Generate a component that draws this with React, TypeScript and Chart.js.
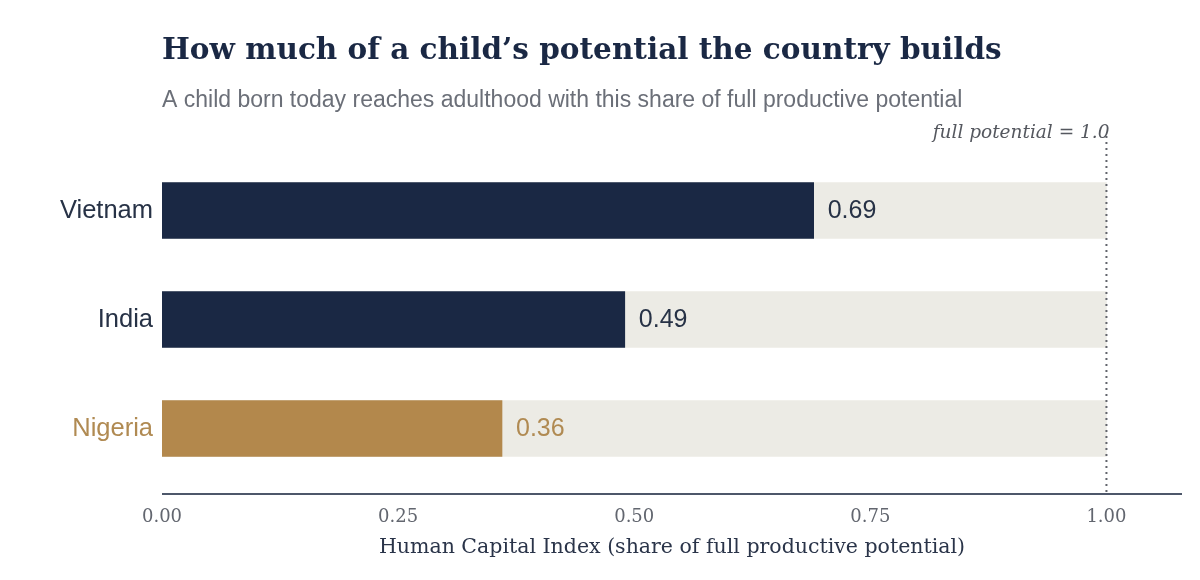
import React, { useEffect, useRef } from 'react';
import Chart from 'chart.js/auto';

const countries = ['Vietnam', 'India', 'Nigeria'];
const hciValues = [0.69, 0.49, 0.36];
const fullPotential = [1, 1, 1];
const tickValues = [0, 0.25, 0.5, 0.75, 1];
const xMax = 1.08;

const NAVY = '#1a2844';
const GOLD = '#b3884c';
const TRACK = '#ecebe5';
const barColors = [NAVY, NAVY, GOLD];
const labelColors = ['#273246', '#273246', '#b08a52'];

// dotted line at full potential, the note above it and the baseline under the bars
const guidePlugin = {
  id: 'guides',
  afterDatasetsDraw(chart: any) {
    const { ctx, chartArea, scales } = chart;
    const x = scales.x.getPixelForValue(1);
    ctx.save();
    ctx.strokeStyle = '#62656c';
    ctx.lineWidth = 2;
    ctx.setLineDash([2, 4]);
    ctx.beginPath();
    ctx.moveTo(x, chartArea.top - 20);
    ctx.lineTo(x, chartArea.bottom + 9);
    ctx.stroke();
    ctx.setLineDash([]);

    ctx.strokeStyle = '#4d576a';
    ctx.lineWidth = 2;
    ctx.beginPath();
    ctx.moveTo(chartArea.left, chartArea.bottom + 11);
    ctx.lineTo(chartArea.right, chartArea.bottom + 11);
    ctx.stroke();

    ctx.font = 'italic 18.5px "DejaVu Serif"';
    ctx.fillStyle = '#55585f';
    ctx.textAlign = 'right';
    ctx.textBaseline = 'alphabetic';
    ctx.fillText('full potential = 1.0', x + 3, chartArea.top - 18);
    ctx.restore();
  },
};

// value labels to the right of each bar
const valueLabelPlugin = {
  id: 'valueLabels',
  afterDatasetsDraw(chart: any) {
    const { ctx } = chart;
    const meta = chart.getDatasetMeta(0);
    ctx.save();
    ctx.font = '25px "Liberation Sans"';
    ctx.textAlign = 'left';
    ctx.textBaseline = 'middle';
    meta.data.forEach((bar: any, i: number) => {
      ctx.fillStyle = labelColors[i];
      ctx.fillText(hciValues[i].toFixed(2), bar.x + 14, bar.y + 1);
    });
    ctx.restore();
  },
};

const App: React.FC = () => {
  const chartRef = useRef<HTMLCanvasElement>(null);
  const chartInstance = useRef<Chart | null>(null);

  useEffect(() => {
    document.body.style.margin = '0';
    if (!chartRef.current) return;
    if (chartInstance.current) chartInstance.current.destroy();

    chartInstance.current = new Chart(chartRef.current, {
      type: 'bar',
      data: {
        labels: countries,
        datasets: [
          {
            label: 'Human Capital Index',
            data: hciValues,
            backgroundColor: barColors,
            barThickness: 56,
            grouped: false,
          },
          {
            label: 'Full potential',
            data: fullPotential,
            backgroundColor: TRACK,
            barThickness: 56,
            grouped: false,
          },
        ],
      },
      options: {
        indexAxis: 'y',
        responsive: true,
        maintainAspectRatio: false,
        animation: false,
        layout: { padding: { left: 0, right: 18, top: 0, bottom: 0 } },
        plugins: {
          legend: { display: false },
          tooltip: { enabled: false },
          title: {
            display: true,
            text: 'How much of a child\u2019s potential the country builds',
            align: 'start',
            fullSize: false,
            color: NAVY,
            font: { family: '"DejaVu Serif"', size: 29.5, weight: 'bold' },
            padding: { top: 34, bottom: 9 },
          },
          subtitle: {
            display: true,
            text: 'A child born today reaches adulthood with this share of full productive potential',
            align: 'start',
            fullSize: false,
            color: '#6b6f78',
            font: { family: '"Liberation Sans"', size: 23 },
            padding: { top: 8, bottom: 42 },
          },
        },
        scales: {
          x: {
            min: 0,
            max: xMax,
            grid: { display: false, drawTicks: false },
            border: { display: false },
            afterBuildTicks: (scale: any) => {
              scale.ticks = tickValues.map((value) => ({ value }));
            },
            afterFit: (scale: any) => {
              scale.height = 97;
            },
            ticks: {
              padding: 24,
              color: '#62666f',
              font: { family: '"DejaVu Serif"', size: 18 },
              callback: (v: any) => Number(v).toFixed(2),
            },
            title: {
              display: true,
              text: 'Human Capital Index (share of full productive potential)',
              color: '#2a3449',
              font: { family: '"DejaVu Serif"', size: 20.5 },
              padding: { top: 20, bottom: 20 },
            },
          },
          y: {
            grid: { display: false, drawTicks: false },
            border: { display: false },
            afterFit: (scale: any) => {
              scale.width = 162;
            },
            ticks: {
              padding: 9,
              color: (c: any) => labelColors[c.index],
              font: { family: '"Liberation Sans"', size: 25.5 },
            },
          },
        },
      },
      plugins: [guidePlugin, valueLabelPlugin],
    });

    return () => {
      if (chartInstance.current) {
        chartInstance.current.destroy();
        chartInstance.current = null;
      }
    };
  }, []);

  return (
    <div style={{ width: 1200, height: 580, position: 'relative' }}>
      <canvas ref={chartRef} />
    </div>
  );
};

export default App;
